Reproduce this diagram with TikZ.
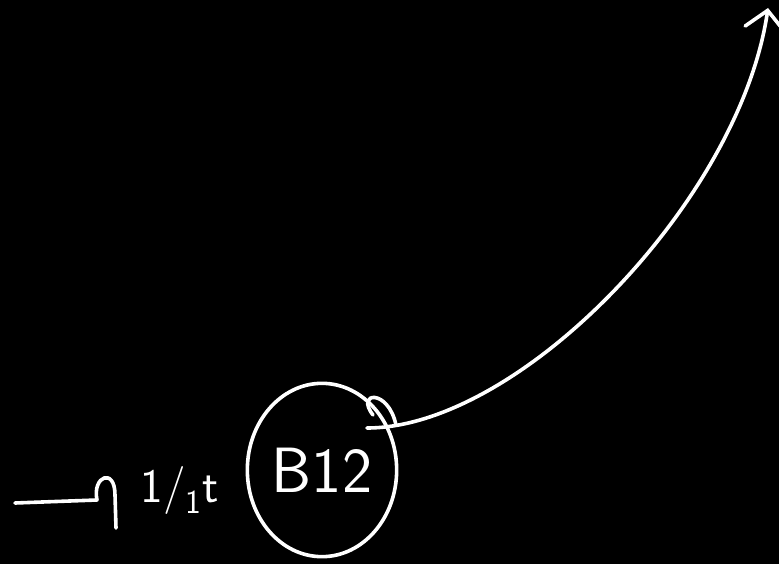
\documentclass[tikz,border=0pt]{standalone}
\usetikzlibrary{arrows.meta,positioning,shapes.geometric}

\begin{document}
\begin{tikzpicture}[x=0.75pt,y=-0.75pt,node distance=7mm,
  ink/.style={draw=white,line width=2.7pt,line cap=round,line join=round},
  hand/.style={text=white,font=\sffamily\fontsize{48}{52}\selectfont,inner sep=0pt},
  arr/.style={ink,-{Straight Barb[length=14pt,width=30pt,line cap=round]}}]
\fill[black] (0,0) rectangle (779,564);
\useasboundingbox (0,0) rectangle (779,564);
\node[ellipse,ink,hand,minimum width=112pt,minimum height=130pt] (b12) at (322,470) {B12};
\node[hand,font=\sffamily\fontsize{36}{40}\selectfont,left=of b12,yshift=-15pt] (lbl) {1/\textsubscript{1}t};
\coordinate (in) at (15,503);
\coordinate (out) at (367,428);
\coordinate (top) at (768,8);
% incoming stroke with its hooked end
\draw[ink] (in) -- (97,500) .. controls +(-5,-24) and +(0,-28) .. (115,495) -- (116,528);
\draw[ink] (373,415) .. controls (355,392) and (388,388) .. (396,425);
\draw[arr] (out) .. controls (520,428) and (740,200) .. (top);
\end{tikzpicture}
\end{document}
